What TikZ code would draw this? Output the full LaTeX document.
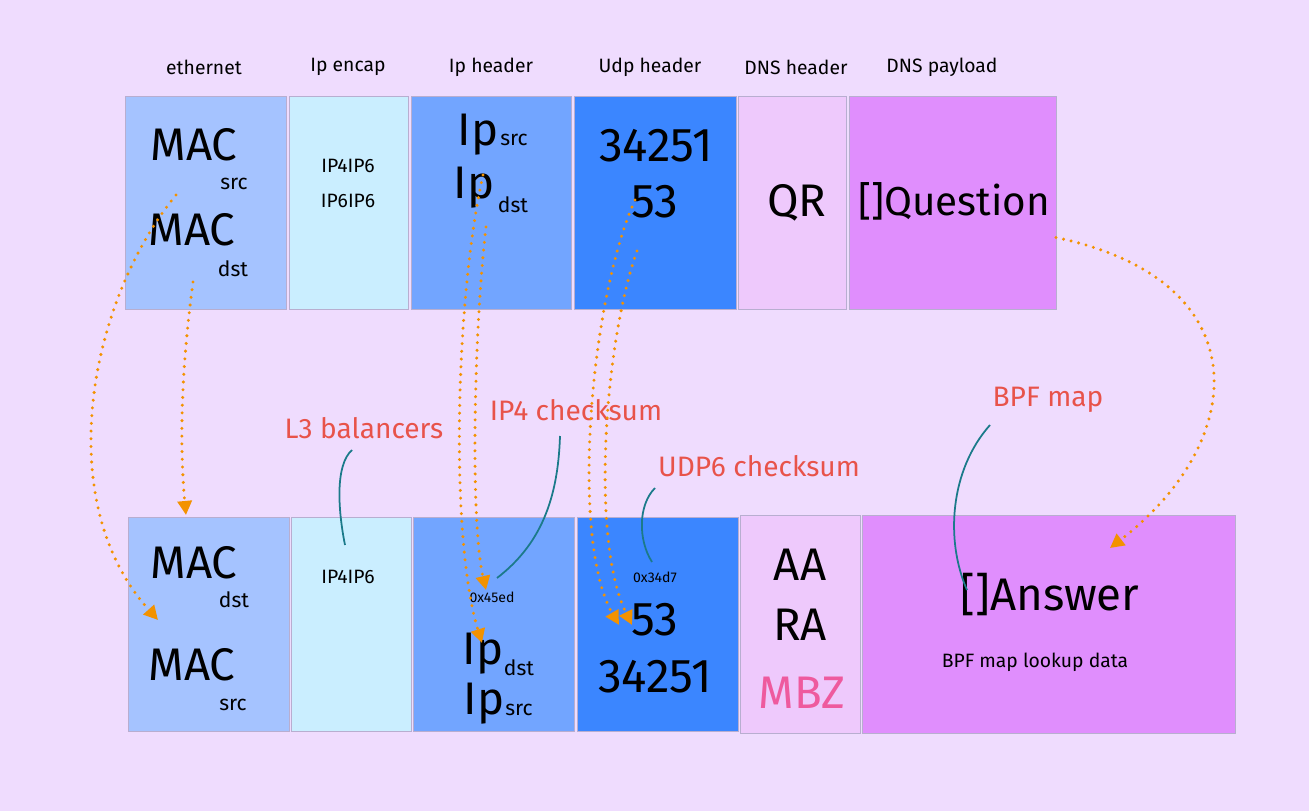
\documentclass[tikz,border=0pt]{standalone}
\usepackage{fontspec}
\setmainfont{Fira Sans}
\usetikzlibrary{arrows.meta,positioning}
\definecolor{bg}{HTML}{EFDCFE}
\definecolor{edge}{HTML}{B8AED0}
\definecolor{ethc}{HTML}{A5C3FF}
\definecolor{encc}{HTML}{CAEEFF}
\definecolor{ipc}{HTML}{72A5FF}
\definecolor{udpc}{HTML}{3B86FF}
\definecolor{dnsc}{HTML}{EEC9FC}
\definecolor{payc}{HTML}{E08EFD}
\definecolor{notec}{HTML}{E8534A}
\definecolor{leadc}{HTML}{1B7A8A}
\definecolor{movec}{HTML}{F39200}
\definecolor{mbzc}{HTML}{EE5A9E}

\begin{document}
\begin{tikzpicture}[x=0.02cm,y=-0.02cm,
  cell/.style={draw=edge, line width=0.5pt, inner sep=0pt, outer sep=0pt},
  head/.style={font=\fontsize{11}{13}\selectfont},
  big/.style={font=\fontsize{26}{28}\selectfont, inner sep=1pt},
  sub/.style={font=\fontsize{12}{14}\selectfont, inner sep=1pt},
  small/.style={font=\fontsize{11}{13}\selectfont},
  wee/.style={font=\fontsize{8}{9}\selectfont},
  note/.style={font=\fontsize{16}{18}\selectfont, text=notec},
  move/.style={draw=movec, line width=1.9pt, line cap=round, dash pattern=on 0pt off 4.4pt, -{Triangle[width=8pt,length=8pt]}},
  lead/.style={draw=leadc, line width=1pt}]
\useasboundingbox (0,0) rectangle (1309,811);
\fill[bg] (0,0) rectangle (1309,811);

\node[head] (hEth) at (204,67) {ethernet};
\node[head] (hEnc) at (348,67) {Ip encap};
\node[head] (hIp) at (491,67) {Ip header};
\node[head] (hUdp) at (650,67) {Udp header};
\node[head] (hDns) at (796,67) {DNS header};
\node[head] (hPay) at (942,67) {DNS payload};

\node[cell, fill=ethc, minimum width=3.22cm, minimum height=4.26cm] (ethT) at (205.5,202.5) {};
\node[cell, fill=encc, minimum width=2.38cm, minimum height=4.26cm] (encT) at (348.5,202.5) {};
\node[cell, fill=ipc, minimum width=3.2cm, minimum height=4.26cm] (ipT) at (491,202.5) {};
\node[cell, fill=udpc, minimum width=3.24cm, minimum height=4.26cm] (udpT) at (655,202.5) {};
\node[cell, fill=dnsc, minimum width=2.16cm, minimum height=4.26cm] (dnsT) at (792,202.5) {};
\node[cell, fill=payc, minimum width=4.14cm, minimum height=4.26cm] (payT) at (952.5,202.5) {};

\node[cell, fill=ethc, minimum width=3.22cm, minimum height=4.28cm] (ethB) at (208.5,624) {};
\node[cell, fill=encc, minimum width=2.4cm, minimum height=4.28cm] (encB) at (351,624) {};
\node[cell, fill=ipc, minimum width=3.22cm, minimum height=4.28cm] (ipB) at (493.5,624) {};
\node[cell, fill=udpc, minimum width=3.22cm, minimum height=4.28cm] (udpB) at (657.5,624) {};
\node[cell, fill=dnsc, minimum width=2.4cm, minimum height=4.36cm] (dnsB) at (800,624) {};
\node[cell, fill=payc, minimum width=7.46cm, minimum height=4.36cm] (payB) at (1048.5,624) {};

\node[big] (macTs) at (194,145) {MAC};
\node[sub] (macTsx) at (234,184) {src};
\node[big] (macTd) at (192,230) {MAC};
\node[sub] (macTdx) at (233,269) {dst};
\node[small] (encT1) at (348,166) {IP4IP6};
\node[small] (encT2) at (348,201) {IP6IP6};
\node[big] (ipTs) at (478,135) {Ip};
\node[sub] (ipTsx) at (514,140) {src};
\node[big] (ipTd) at (474,188) {Ip};
\node[sub] (ipTdx) at (513,205) {dst};
\node[big, font=\fontsize{27}{29}\selectfont] (udpT1) at (656,146) {34251};
\node[big, font=\fontsize{27}{29}\selectfont] (udpT2) at (655,202) {53};
\node[big] (qr) at (797,203) {QR};
\node[big, font=\fontsize{23}{25}\selectfont] (quest) at (954,201) {[]Question};

\node[big] (macBd) at (194,563) {MAC};
\node[sub] (macBdx) at (234,600) {dst};
\node[big] (macBs) at (192,665) {MAC};
\node[sub] (macBsx) at (233,705) {src};
\node[small] (encB1) at (348,577) {IP4IP6};
\node[wee] (csum4) at (492,597) {0x45ed};
\node[big] (ipBd) at (483,654) {Ip};
\node[sub] (ipBdx) at (519,668) {dst};
\node[big] (ipBs) at (484,704) {Ip};
\node[sub] (ipBsx) at (519,710) {src};
\node[wee] (csum6) at (655,577) {0x34d7};
\node[big, font=\fontsize{27}{29}\selectfont] (udpB1) at (655,620) {53};
\node[big, font=\fontsize{27}{29}\selectfont] (udpB2) at (655,677) {34251};
\node[big] (aa) at (800,565) {AA};
\node[big] (ra) at (800,625) {RA};
\node[big, text=mbzc] (mbz) at (802,693) {MBZ};
\node[big] (answer) at (1050,595) {[]Answer};
\node[small] (lookup) at (1035,662) {BPF map lookup data};

\node[note] (l3) at (364,428) {L3 balancers};
\node[note] (ip4c) at (576,410) {IP4 checksum};
\node[note] (udp6c) at (759,466) {UDP6 checksum};
\node[note] (bpf) at (1048,400) {BPF map};

\draw[lead] ([shift={(-12,22)}]l3.center) .. controls (335,465) and (338,510) .. ([shift={(-3,-32)}]encB1.center);
\draw[lead] ([shift={(-16,26)}]ip4c.center) .. controls (558,500) and (540,545) .. ([shift={(5,-19)}]csum4.center);
\draw[lead] ([shift={(-104,22)}]udp6c.center) .. controls (638,505) and (638,540) .. ([shift={(-3,-15)}]csum6.center);
\draw[lead] ([shift={(-58,25)}]bpf.center) .. controls (950,470) and (945,540) .. ([shift={(-83,-5)}]answer.center);

\draw[move] ([shift={(-18,50)}]macTs.center) .. controls (90,300) and (50,500) .. ([shift={(-34,-45)}]macBs.center);
\draw[move] ([shift={(1,52)}]macTd.center) .. controls (180,380) and (180,450) .. ([shift={(-8,-48)}]macBd.center);
\draw[move] ([shift={(9,-13)}]ipTd.center) .. controls (455,300) and (450,540) .. ([shift={(-1,-11)}]ipBd.center);
\draw[move] ([shift={(12,39)}]ipTd.center) .. controls (474,330) and (470,520) .. ([shift={(-6,-7)}]csum4.center);
\draw[move] ([shift={(-20,-2)}]udpT2.center) .. controls (590,300) and (570,540) .. ([shift={(-36,5)}]udpB1.center);
\draw[move] ([shift={(-18,49)}]udpT2.center) .. controls (605,340) and (590,540) .. ([shift={(-23,5)}]udpB1.center);
\draw[move] ([shift={(0,35)}]payT.east) .. controls (1260,280) and (1250,440) .. ([shift={(61.5,-76)}]payB.center);
\end{tikzpicture}
\end{document}
